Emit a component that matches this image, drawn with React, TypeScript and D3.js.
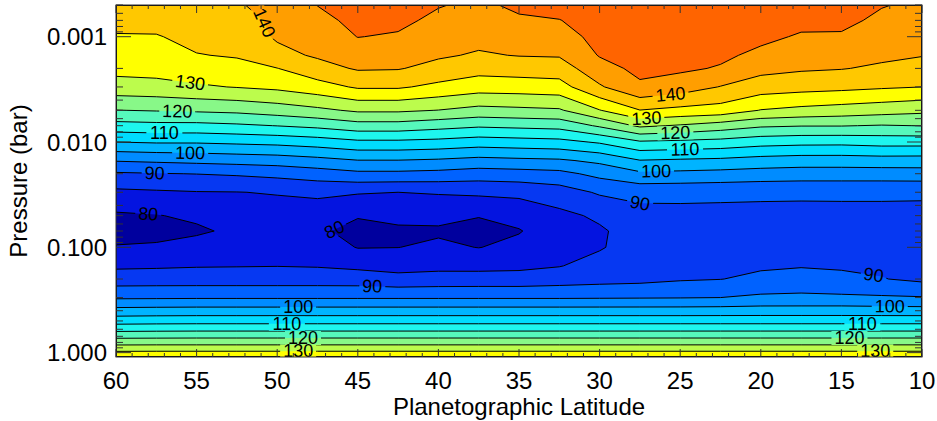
import React from 'react';
import * as d3 from 'd3';

// grid of the retrieval: latitude columns and pressure rows
const latitudes = [60, 57.5, 55, 52.5, 50, 47.5, 45, 42.5, 40, 37.5, 35, 32.5, 30, 27.5, 25, 22.5, 20, 17.5, 15, 12.5, 10];
const pressures = [0.0005, 0.0007, 0.001, 0.0015, 0.002, 0.003, 0.005, 0.007, 0.01, 0.015, 0.02, 0.03, 0.05, 0.07, 0.1, 0.15, 0.2, 0.3, 0.4, 0.5, 0.6, 0.7, 0.8, 1.0, 1.1];

// temperature (K) profile for each latitude, from the lowest pressure down
const profiles = [
  [138.5, 136.6, 134.6, 132.6, 131.5, 128.0, 119.9, 113.2, 105.0, 95.3, 89.4, 84.0, 79.3, 77.1, 80.5, 84.2, 87.4, 94.3, 101.8, 107.8, 113.4, 118.6, 123.0, 131.0, 134.0],
  [138.5, 136.6, 134.7, 132.9, 131.8, 128.4, 120.3, 113.6, 105.5, 95.8, 89.8, 84.4, 79.8, 78.1, 80.8, 84.4, 87.5, 94.4, 102.0, 108.0, 113.6, 118.7, 123.1, 131.1, 134.0],
  [139.0, 137.7, 136.4, 134.8, 132.7, 129.4, 120.7, 113.6, 105.5, 96.3, 90.1, 84.8, 80.8, 79.3, 81.8, 84.7, 87.5, 94.5, 102.1, 108.1, 113.7, 118.8, 123.1, 131.1, 134.0],
  [139.6, 138.3, 137.0, 135.4, 133.5, 130.2, 121.2, 114.2, 106.0, 96.8, 90.6, 84.9, 82.4, 80.9, 82.9, 84.8, 87.5, 94.5, 102.1, 108.1, 113.7, 118.8, 123.1, 131.1, 134.0],
  [141.5, 140.9, 140.6, 138.6, 134.9, 131.1, 122.4, 115.1, 106.5, 97.3, 91.4, 85.3, 82.9, 81.5, 83.1, 84.9, 87.5, 94.5, 102.1, 108.1, 113.7, 118.8, 123.1, 131.1, 134.0],
  [145.1, 143.6, 142.2, 140.6, 138.2, 133.0, 123.9, 116.2, 107.5, 98.4, 92.6, 85.9, 82.6, 80.7, 82.5, 84.7, 87.5, 94.5, 102.1, 108.1, 113.7, 118.8, 123.1, 131.1, 134.0],
  [147.5, 146.3, 145.1, 142.5, 140.5, 135.6, 125.8, 118.0, 109.0, 99.8, 93.9, 85.4, 80.3, 78.7, 79.8, 84.0, 87.4, 94.5, 102.1, 108.1, 113.7, 118.8, 123.1, 131.1, 134.0],
  [147.5, 146.1, 144.5, 142.1, 140.3, 135.6, 125.8, 118.0, 109.0, 99.8, 93.9, 85.0, 81.1, 79.3, 79.95, 83.3, 86.5, 94.5, 102.1, 108.1, 113.7, 118.8, 123.1, 131.1, 134.0],
  [145.3, 143.9, 142.4, 140.6, 138.5, 133.8, 124.9, 116.8, 108.5, 99.3, 93.5, 85.4, 81.2, 79.4, 80.8, 83.7, 86.9, 94.5, 102.1, 108.1, 113.7, 118.8, 123.1, 131.1, 134.0],
  [144.0, 142.7, 141.4, 139.5, 136.8, 132.3, 123.4, 115.7, 107.5, 98.4, 92.6, 85.9, 80.2, 78.6, 79.9, 83.6, 87.0, 94.5, 102.1, 108.1, 113.7, 118.8, 123.1, 131.1, 134.0],
  [146.0, 144.3, 142.4, 140.2, 137.3, 132.5, 123.9, 116.2, 108.0, 98.9, 93.0, 86.3, 81.4, 79.75, 81.1, 83.9, 87.0, 94.5, 102.1, 108.1, 113.7, 118.8, 123.1, 131.1, 134.0],
  [147.5, 144.8, 142.7, 140.4, 137.6, 133.0, 124.4, 116.7, 108.5, 99.3, 93.6, 87.7, 83.8, 82.4, 83.1, 84.8, 87.6, 94.5, 102.1, 108.1, 113.7, 118.8, 123.1, 131.1, 134.0],
  [149.0, 147.9, 146.7, 145.3, 143.2, 139.4, 129.8, 120.7, 110.6, 101.1, 96.4, 90.6, 85.8, 84.4, 84.6, 86.7, 88.2, 94.6, 102.1, 108.1, 113.7, 118.8, 123.1, 131.1, 134.0],
  [149.5, 148.6, 147.6, 146.6, 146.2, 144.2, 134.9, 125.9, 114.4, 104.8, 99.1, 91.5, 88.3, 87.1, 87.2, 88.3, 88.6, 94.7, 102.1, 108.1, 113.7, 118.8, 123.1, 131.1, 134.0],
  [149.5, 148.5, 147.5, 146.3, 145.8, 142.5, 133.7, 124.5, 113.9, 104.3, 98.8, 91.4, 88.5, 87.7, 87.3, 88.8, 89.5, 94.8, 102.1, 108.1, 113.7, 118.8, 123.1, 131.1, 134.0],
  [149.5, 148.4, 147.2, 145.9, 144.6, 139.8, 133.0, 122.7, 113.3, 103.9, 98.4, 91.2, 88.5, 87.7, 87.4, 88.9, 89.9, 95.0, 102.2, 108.1, 113.7, 118.8, 123.1, 131.1, 134.0],
  [149.0, 147.6, 146.1, 143.9, 141.5, 137.5, 129.8, 120.7, 112.0, 103.0, 97.9, 91.0, 88.5, 87.6, 87.8, 89.4, 91.0, 95.9, 102.3, 108.1, 113.7, 118.8, 123.1, 131.1, 134.0],
  [148.0, 146.3, 144.5, 142.2, 140.6, 136.8, 128.7, 120.2, 111.5, 102.5, 97.6, 90.9, 88.5, 87.3, 88.1, 89.7, 91.9, 96.0, 102.3, 108.1, 113.7, 118.8, 123.1, 131.1, 134.0],
  [148.0, 146.3, 144.4, 142.0, 140.2, 136.3, 127.9, 120.2, 111.4, 102.5, 97.6, 90.9, 88.6, 87.8, 88.3, 89.8, 90.4, 96.0, 102.3, 108.1, 113.7, 118.8, 123.1, 131.1, 134.0],
  [145.3, 143.9, 142.6, 140.9, 139.3, 135.6, 127.1, 119.7, 112.0, 102.8, 97.6, 90.9, 88.6, 88.0, 88.0, 89.2, 90.2, 95.6, 102.2, 108.1, 113.7, 118.8, 123.1, 131.1, 134.0],
  [144.0, 142.8, 141.6, 140.2, 138.2, 135.0, 126.2, 120.1, 112.0, 102.7, 97.8, 90.8, 88.6, 88.2, 88.1, 88.9, 89.0, 95.3, 102.1, 108.1, 113.7, 118.8, 123.1, 131.1, 134.0],
];

// filled levels (lowest one covers the whole field) and their colours
const levels = [70, 80, 85, 90, 95, 100, 105, 110, 115, 120, 125, 130, 135, 140, 145];
const bandColors = [
  '#00009e', '#0414e0', '#0638f2', '#0062ff', '#008cff', '#00b4ff', '#00dcff',
  '#1ef6ee', '#56f8bc', '#88f888', '#bcfc4c', '#ffff00', '#ffc800', '#ff9e00', '#ff6400',
];

// contour labels: [level, latitude, approximate pressure]
const contourLabels: [number, number, number][] = [
  [140, 50.8, 0.0009], [130, 55.4, 0.0027], [120, 56.2, 0.0051], [110, 57, 0.0077],
  [100, 55.4, 0.0124], [90, 57.6, 0.0193], [80, 58, 0.047], [80, 46.45, 0.068],
  [140, 25.6, 0.0032], [130, 27.1, 0.0058], [120, 25.3, 0.0089], [110, 24.7, 0.0119],
  [100, 26.5, 0.0193], [90, 27.5, 0.046],
  [90, 44.1, 0.25], [90, 13, 0.18],
  [100, 48.7, 0.37], [100, 12, 0.37], [110, 49.4, 0.53], [110, 13.7, 0.52],
  [120, 48.4, 0.73], [120, 14.5, 0.72], [130, 48.7, 0.96], [130, 12.9, 0.96],
];

const xTickValues = [60, 55, 50, 45, 40, 35, 30, 25, 20, 15, 10];
const yTickValues = [0.001, 0.01, 0.1, 1];

const W = 937, H = 421;
const left = 116, right = 922, top = 5, bottom = 357;
const font = "'Liberation Sans', Arial, Helvetica, sans-serif";

const x = d3.scaleLinear().domain([60, 10]).range([left, right]);
const y = d3.scaleLog().domain([0.0005, 1.1]).range([top, bottom]);

const n = latitudes.length, m = pressures.length;
const values: number[] = new Array(n * m);
for (let j = 0; j < m; j++) for (let i = 0; i < n; i++) values[j * n + i] = profiles[i][j];
const logP = pressures.map(Math.log10);

// contour grid coordinates -> pixels (samples sit at cell centres)
function gridX(gx: number) {
  const s = Math.max(0, Math.min(n - 1, gx - 0.5));
  const i = Math.min(n - 2, Math.floor(s));
  const f = s - i;
  return x(latitudes[i] + f * (latitudes[i + 1] - latitudes[i]));
}
function gridY(gy: number) {
  const s = Math.max(0, Math.min(m - 1, gy - 0.5));
  const i = Math.min(m - 2, Math.floor(s));
  const f = s - i;
  return y(Math.pow(10, logP[i] + f * (logP[i + 1] - logP[i])));
}

const contours = d3.contours().size([n, m]).thresholds(levels)(values);

const toPx = (ring: number[][]) => ring.map(([gx, gy]) => [gridX(gx), gridY(gy)]);
const geomPath = (g: any) =>
  g.coordinates.map((poly: number[][][]) =>
    poly.map(r => 'M' + toPx(r).map(p => p[0].toFixed(2) + ',' + p[1].toFixed(2)).join('L') + 'Z').join('')
  ).join('');

function placeLabel(level: number, lat: number, p: number) {
  const g: any = contours.find(c => c.value === level);
  const xl = x(lat), yh = y(p);
  let best: any = null;
  for (const poly of g.coordinates) for (const ring of poly) {
    const pts = toPx(ring);
    for (let k = 0; k < pts.length - 1; k++) {
      const [x0, y0] = pts[k], [x1, y1] = pts[k + 1];
      if (x0 === x1 || (x0 - xl) * (x1 - xl) > 0) continue;
      if (Math.abs(y0 - y1) < 1e-6 && (Math.abs(y0 - top) < 0.5 || Math.abs(y0 - bottom) < 0.5)) continue;
      const t = (xl - x0) / (x1 - x0);
      const yy = y0 + t * (y1 - y0);
      const d = Math.abs(yy - yh);
      if (!best || d < best.d) {
        let a = Math.atan2(y1 - y0, x1 - x0) * 180 / Math.PI;
        if (a > 90) a -= 180;
        if (a < -90) a += 180;
        best = { d, x: xl, y: yy, angle: a };
      }
    }
  }
  return { text: String(level), ...best };
}

const labels = contourLabels.map(([lv, lat, p]) => placeLabel(lv, lat, p));

const xMinor = d3.range(10, 61, 1);
const yAll = y.ticks();
const isDecade = (v: number) => Math.abs(Math.log10(v) - Math.round(Math.log10(v))) < 1e-6;

export default function App() {
  const labelSize = 18;
  return (
    <svg width={W} height={H} style={{ position: 'absolute', left: 0, top: 0, background: '#fff' }}>
      <defs>
        <clipPath id="plot">
          <rect x={left} y={top} width={right - left} height={bottom - top} />
        </clipPath>
        <mask id="gaps" maskUnits="userSpaceOnUse" x={0} y={0} width={W} height={H}>
          <rect x={0} y={0} width={W} height={H} fill="#fff" />
          {labels.map((l, i) => {
            const w = l.text.length * 0.556 * labelSize + 6;
            return (
              <rect key={i} x={-w / 2} y={-7} width={w} height={14} fill="#000"
                transform={`translate(${l.x},${l.y}) rotate(${l.angle})`} />
            );
          })}
        </mask>
      </defs>

      <g clipPath="url(#plot)">
        {contours.map((c, i) => (
          <path key={i} d={geomPath(c)} fill={bandColors[i]} fillRule="evenodd" stroke="none" />
        ))}
        <g mask="url(#gaps)">
          {contours.slice(1).map((c, i) => (
            <path key={i} d={geomPath(c)} fill="none" stroke="#000" strokeWidth={1} strokeLinejoin="round" />
          ))}
        </g>
        {labels.map((l, i) => (
          <text key={i} transform={`translate(${l.x},${l.y}) rotate(${l.angle})`}
            textAnchor="middle" dominantBaseline="central"
            fontFamily={font} fontSize={labelSize} fill="#000">{l.text}</text>
        ))}
      </g>

      {/* ticks */}
      <g stroke="#333" strokeWidth={1}>
        {xMinor.map(v => {
          const len = v % 5 === 0 ? 8 : 4;
          const xx = x(v);
          return (
            <g key={v}>
              <line x1={xx} x2={xx} y1={bottom} y2={bottom - len} />
              <line x1={xx} x2={xx} y1={top} y2={top + len} />
            </g>
          );
        })}
        {yAll.map((v, i) => {
          const len = isDecade(v) ? 15 : 7;
          const yy = y(v);
          return (
            <g key={i}>
              <line x1={left} x2={left + len} y1={yy} y2={yy} />
              <line x1={right} x2={right - len} y1={yy} y2={yy} />
            </g>
          );
        })}
      </g>
      <rect x={left} y={top} width={right - left} height={bottom - top} fill="none" stroke="#333" strokeWidth={1} />

      {/* axis labels */}
      <g fontFamily={font} fontSize={24} fill="#000">
        {xTickValues.map(v => (
          <text key={v} x={x(v)} y={389} textAnchor="middle">{v}</text>
        ))}
        {yTickValues.map(v => (
          <text key={v} x={107} y={y(v)} dy="0.36em" textAnchor="end">{d3.format('.3f')(v)}</text>
        ))}
        <text x={(left + right) / 2} y={415} textAnchor="middle">Planetographic Latitude</text>
        <text transform={`translate(27,${(top + bottom) / 2}) rotate(-90)`} textAnchor="middle">Pressure (bar)</text>
      </g>
    </svg>
  );
}
